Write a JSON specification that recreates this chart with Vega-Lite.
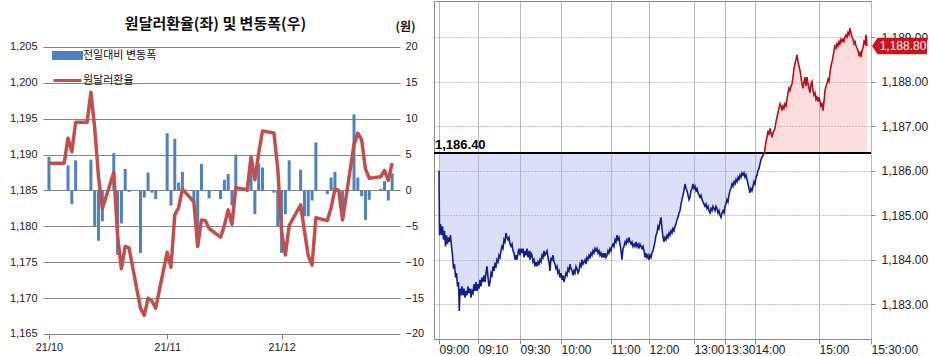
{
"$schema": "https://vega.github.io/schema/vega-lite/v6.json",
"padding": {"left": 7, "top": 0, "right": 0, "bottom": 0},
"background": "white",
"config": {"font": "Liberation Sans"},
"datasets": {
"daily": [
{"d":"2021-10-01","r":1188.8,"c":4.7},{"d":"2021-10-05","r":1188.8,"c":0},{"d":"2021-10-06","r":1192.3,"c":3.5},{"d":"2021-10-07","r":1190.4,"c":-1.9},{"d":"2021-10-08","r":1194.5,"c":4.2},{"d":"2021-10-11","r":1194.5,"c":0},{"d":"2021-10-12","r":1198.7,"c":4.3},{"d":"2021-10-13","r":1193.7,"c":-5.0},{"d":"2021-10-14","r":1186.9,"c":-7.0},{"d":"2021-10-15","r":1182.5,"c":-4.3},{"d":"2021-10-18","r":1187.5,"c":5.2},{"d":"2021-10-19","r":1178.7,"c":-9.0},{"d":"2021-10-20","r":1174.1,"c":-4.6},{"d":"2021-10-21","r":1177.2,"c":3.0},{"d":"2021-10-22","r":1177.0,"c":-0.2},{"d":"2021-10-25","r":1168.6,"c":-8.7},{"d":"2021-10-26","r":1167.6,"c":-1.0},{"d":"2021-10-27","r":1170.0,"c":2.5},{"d":"2021-10-28","r":1169.6,"c":-0.3},{"d":"2021-10-29","r":1168.6,"c":-1.2},
{"d":"2021-11-01","r":1176.4,"c":8.0},{"d":"2021-11-02","r":1174.3,"c":-2.1},{"d":"2021-11-03","r":1181.6,"c":7.2},{"d":"2021-11-04","r":1182.6,"c":1.1},{"d":"2021-11-05","r":1185.2,"c":2.6},{"d":"2021-11-08","r":1183.4,"c":-1.7},{"d":"2021-11-09","r":1177.2,"c":-6.3},{"d":"2021-11-10","r":1180.9,"c":3.7},{"d":"2021-11-11","r":1180.8,"c":-0.1},{"d":"2021-11-12","r":1179.7,"c":-1.1},{"d":"2021-11-15","r":1178.5,"c":-1.2},{"d":"2021-11-16","r":1180.1,"c":1.5},{"d":"2021-11-17","r":1182.3,"c":2.3},{"d":"2021-11-18","r":1180.3,"c":-2.1},{"d":"2021-11-19","r":1185.4,"c":5.0},{"d":"2021-11-22","r":1185.1,"c":-0.2},{"d":"2021-11-23","r":1189.7,"c":4.6},{"d":"2021-11-24","r":1186.5,"c":-3.3},{"d":"2021-11-25","r":1190.2,"c":3.8},{"d":"2021-11-26","r":1193.3,"c":3.2},{"d":"2021-11-29","r":1193.0,"c":-0.3},{"d":"2021-11-30","r":1188.1,"c":-5.0},
{"d":"2021-12-01","r":1179.3,"c":-8.7},{"d":"2021-12-02","r":1176.0,"c":-3.3},{"d":"2021-12-03","r":1180.1,"c":4.2},{"d":"2021-12-06","r":1183.0,"c":2.9},{"d":"2021-12-07","r":1179.4,"c":-3.6},{"d":"2021-12-08","r":1175.9,"c":-3.6},{"d":"2021-12-09","r":1174.6,"c":-1.4},{"d":"2021-12-10","r":1181.2,"c":6.7},{"d":"2021-12-13","r":1180.8,"c":-0.5},{"d":"2021-12-14","r":1182.6,"c":1.8},{"d":"2021-12-15","r":1185.2,"c":2.6},{"d":"2021-12-16","r":1185.0,"c":-0.2},{"d":"2021-12-17","r":1180.9,"c":-4.1},{"d":"2021-12-20","r":1191.4,"c":10.6},{"d":"2021-12-21","r":1193.0,"c":1.8},{"d":"2021-12-22","r":1192.1,"c":-0.8},{"d":"2021-12-23","r":1188.0,"c":-4.1},{"d":"2021-12-24","r":1186.7,"c":-1.3},{"d":"2021-12-27","r":1186.9,"c":0.2},{"d":"2021-12-28","r":1187.8,"c":1.3},{"d":"2021-12-29","r":1186.4,"c":-1.4},{"d":"2021-12-30","r":1188.8,"c":2.4}
],
"intra": [
{"i":0,"v":1186.0},{"i":0.5,"v":1184.55},{"i":1.5,"v":1184.8},{"i":2.5,"v":1184.55},{"i":3.5,"v":1184.75},{"i":4.5,"v":1184.45},{"i":5.5,"v":1184.65},{"i":6.5,"v":1184.3},{"i":7.5,"v":1184.55},{"i":8.5,"v":1184.35},{"i":9.5,"v":1184.5},{"i":10.5,"v":1184.4},{"i":11.5,"v":1184.55},{"i":12.5,"v":1184.3},{"i":13.5,"v":1184.1},{"i":14.5,"v":1183.8},{"i":15.5,"v":1183.9},{"i":16.5,"v":1183.6},{"i":17.5,"v":1183.7},{"i":18.5,"v":1183.4},{"i":19.5,"v":1183.5},{"i":20.3,"v":1182.85},
{"i":21,"v":1183.35},{"i":22,"v":1183.2},{"i":23,"v":1183.4},{"i":24,"v":1183.2},{"i":25,"v":1183.35},{"i":26,"v":1183.15},{"i":27,"v":1183.3},{"i":28,"v":1183.2},{"i":29,"v":1183.4},{"i":30,"v":1183.25},{"i":31,"v":1183.35},{"i":32,"v":1183.15},{"i":33,"v":1183.3},{"i":34,"v":1183.25},{"i":35,"v":1183.45},{"i":36,"v":1183.3},{"i":37,"v":1183.5},{"i":38,"v":1183.3},{"i":39,"v":1183.45},{"i":40,"v":1183.35},
{"i":41,"v":1183.55},{"i":42,"v":1183.4},{"i":43,"v":1183.6},{"i":44,"v":1183.5},{"i":45,"v":1183.65},{"i":46,"v":1183.5},{"i":47,"v":1183.7},{"i":48,"v":1183.85},{"i":49,"v":1183.6},{"i":50,"v":1183.4},{"i":51,"v":1183.5},{"i":52,"v":1183.7},{"i":53,"v":1183.65},{"i":54,"v":1183.85},{"i":55,"v":1183.75},{"i":56,"v":1183.9},{"i":57,"v":1183.85},{"i":58,"v":1184.0},{"i":59,"v":1183.95},{"i":60,"v":1184.1},
{"i":61,"v":1184.05},{"i":62,"v":1184.2},{"i":63,"v":1184.3},{"i":64,"v":1184.25},{"i":65,"v":1184.45},{"i":66,"v":1184.4},{"i":67,"v":1184.6},{"i":68,"v":1184.5},{"i":69,"v":1184.45},{"i":70,"v":1184.5},{"i":71,"v":1184.35},{"i":72,"v":1184.3},{"i":73,"v":1184.35},{"i":74,"v":1184.2},{"i":75,"v":1184.15},{"i":76,"v":1184.0},{"i":77,"v":1184.1},{"i":78,"v":1184.0},{"i":79,"v":1184.15},{"i":80,"v":1184.25},
{"i":81,"v":1184.1},{"i":82,"v":1184.25},{"i":83,"v":1184.15},{"i":84,"v":1184.25},{"i":85,"v":1184.05},{"i":86,"v":1184.2},{"i":87,"v":1184.1},{"i":88,"v":1184.25},{"i":89,"v":1184.05},{"i":90,"v":1184.2},{"i":91,"v":1184.0},{"i":92,"v":1184.15},{"i":93,"v":1184.1},{"i":94,"v":1183.95},{"i":95,"v":1184.0},{"i":96,"v":1183.85},{"i":97,"v":1183.95},{"i":98,"v":1183.85},{"i":99,"v":1183.95},{"i":100,"v":1183.9},
{"i":101,"v":1184.0},{"i":102,"v":1183.95},{"i":103,"v":1184.1},{"i":104,"v":1184.05},{"i":105,"v":1184.2},{"i":106,"v":1184.1},{"i":107,"v":1184.15},{"i":108,"v":1184.2},{"i":109,"v":1184.05},{"i":110,"v":1183.95},{"i":111,"v":1183.75},{"i":112,"v":1184.05},{"i":113,"v":1184.0},{"i":114,"v":1184.1},{"i":115,"v":1183.95},{"i":116,"v":1183.9},{"i":117,"v":1183.8},{"i":118,"v":1183.85},{"i":119,"v":1183.7},{"i":120,"v":1183.75},
{"i":121,"v":1183.6},{"i":122,"v":1183.7},{"i":123,"v":1183.55},{"i":124,"v":1183.65},{"i":125,"v":1183.5},{"i":126,"v":1183.6},{"i":127,"v":1183.7},{"i":128,"v":1183.65},{"i":129,"v":1183.8},{"i":130,"v":1183.75},{"i":131,"v":1183.9},{"i":132,"v":1183.8},{"i":133,"v":1183.75},{"i":134,"v":1183.65},{"i":135,"v":1183.75},{"i":136,"v":1183.7},{"i":137,"v":1183.85},{"i":138,"v":1183.8},{"i":139,"v":1183.7},{"i":140,"v":1183.75},
{"i":141,"v":1183.9},{"i":142,"v":1183.85},{"i":143,"v":1184.0},{"i":144,"v":1183.9},{"i":145,"v":1183.95},{"i":146,"v":1184.0},{"i":147,"v":1183.9},{"i":148,"v":1184.05},{"i":149,"v":1184.0},{"i":150,"v":1184.1},{"i":151,"v":1184.05},{"i":152,"v":1184.15},{"i":153,"v":1184.1},{"i":154,"v":1184.2},{"i":155,"v":1184.15},{"i":156,"v":1184.25},{"i":157,"v":1184.2},{"i":158,"v":1184.25},{"i":159,"v":1184.15},{"i":160,"v":1184.2},
{"i":161,"v":1184.1},{"i":162,"v":1184.15},{"i":163,"v":1184.05},{"i":164,"v":1184.15},{"i":165,"v":1184.05},{"i":166,"v":1184.15},{"i":167,"v":1184.05},{"i":168,"v":1184.1},{"i":169,"v":1184.2},{"i":170,"v":1184.15},{"i":171,"v":1184.25},{"i":172,"v":1184.2},{"i":173,"v":1184.3},{"i":174,"v":1184.35},{"i":175,"v":1184.3},{"i":176,"v":1184.45},{"i":177,"v":1184.4},{"i":178,"v":1184.55},{"i":179,"v":1184.45},{"i":180,"v":1184.5},
{"i":181,"v":1184.35},{"i":182,"v":1184.2},{"i":183,"v":1184.0},{"i":184,"v":1184.25},{"i":185,"v":1184.3},{"i":186,"v":1184.4},{"i":187,"v":1184.35},{"i":188,"v":1184.45},{"i":189,"v":1184.4},{"i":190,"v":1184.5},{"i":191,"v":1184.4},{"i":192,"v":1184.35},{"i":193,"v":1184.4},{"i":194,"v":1184.3},{"i":195,"v":1184.35},{"i":196,"v":1184.3},{"i":197,"v":1184.4},{"i":198,"v":1184.3},{"i":199,"v":1184.35},{"i":200,"v":1184.25},
{"i":201,"v":1184.35},{"i":202,"v":1184.3},{"i":203,"v":1184.25},{"i":204,"v":1184.3},{"i":205,"v":1184.2},{"i":206,"v":1184.05},{"i":207,"v":1184.15},{"i":208,"v":1184.05},{"i":209,"v":1184.1},{"i":210,"v":1184.0},{"i":211,"v":1184.1},{"i":212,"v":1184.05},{"i":213,"v":1184.15},{"i":214,"v":1184.2},{"i":215,"v":1184.3},{"i":216,"v":1184.4},{"i":217,"v":1184.55},{"i":218,"v":1184.6},{"i":219,"v":1184.75},{"i":220,"v":1184.7},
{"i":221,"v":1184.85},{"i":222,"v":1184.95},{"i":223,"v":1184.7},{"i":224,"v":1184.5},{"i":225,"v":1184.4},{"i":226,"v":1184.5},{"i":227,"v":1184.45},{"i":228,"v":1184.55},{"i":229,"v":1184.5},{"i":230,"v":1184.6},{"i":231,"v":1184.55},{"i":232,"v":1184.65},{"i":233,"v":1184.6},{"i":234,"v":1184.7},{"i":235,"v":1184.65},{"i":236,"v":1184.75},{"i":237,"v":1184.8},{"i":238,"v":1184.9},{"i":239,"v":1184.95},{"i":240,"v":1185.05},
{"i":241,"v":1185.1},{"i":242,"v":1185.25},{"i":243,"v":1185.35},{"i":244,"v":1185.45},{"i":245,"v":1185.55},{"i":246,"v":1185.7},{"i":247,"v":1185.6},{"i":248,"v":1185.55},{"i":249,"v":1185.45},{"i":250,"v":1185.35},{"i":251,"v":1185.4},{"i":252,"v":1185.55},{"i":253,"v":1185.6},{"i":254,"v":1185.7},{"i":255,"v":1185.6},{"i":256,"v":1185.65},{"i":257,"v":1185.55},{"i":258,"v":1185.6},{"i":259,"v":1185.5},{"i":260,"v":1185.45},
{"i":261,"v":1185.4},{"i":262,"v":1185.45},{"i":263,"v":1185.35},{"i":264,"v":1185.3},{"i":265,"v":1185.25},{"i":266,"v":1185.2},{"i":267,"v":1185.25},{"i":268,"v":1185.15},{"i":269,"v":1185.2},{"i":270,"v":1185.1},{"i":271,"v":1185.05},{"i":272,"v":1185.15},{"i":273,"v":1185.1},{"i":274,"v":1185.2},{"i":275,"v":1185.15},{"i":276,"v":1185.1},{"i":277,"v":1185.2},{"i":278,"v":1185.15},{"i":279,"v":1185.05},{"i":280,"v":1185.1},
{"i":281,"v":1185.0},{"i":282,"v":1184.95},{"i":283,"v":1185.05},{"i":284,"v":1185.1},{"i":285,"v":1185.05},{"i":286,"v":1185.2},{"i":287,"v":1185.25},{"i":288,"v":1185.35},{"i":289,"v":1185.3},{"i":290,"v":1185.45},{"i":291,"v":1185.55},{"i":292,"v":1185.6},{"i":293,"v":1185.7},{"i":294,"v":1185.65},{"i":295,"v":1185.75},{"i":296,"v":1185.7},{"i":297,"v":1185.8},{"i":298,"v":1185.75},{"i":299,"v":1185.85},{"i":300,"v":1185.8},
{"i":301,"v":1185.9},{"i":302,"v":1185.85},{"i":303,"v":1185.95},{"i":304,"v":1185.9},{"i":305,"v":1185.95},{"i":306,"v":1185.85},{"i":307,"v":1185.9},{"i":308,"v":1185.8},{"i":309,"v":1185.7},{"i":310,"v":1185.6},{"i":311,"v":1185.5},{"i":312,"v":1185.6},{"i":313,"v":1185.55},{"i":314,"v":1185.65},{"i":315,"v":1185.75},{"i":316,"v":1185.7},{"i":317,"v":1185.85},{"i":318,"v":1185.9},{"i":319,"v":1186.0},{"i":320,"v":1186.05},
{"i":321,"v":1186.15},{"i":322,"v":1186.25},{"i":323,"v":1186.3},{"i":324,"v":1186.35},{"i":325.5,"v":1186.4},{"i":326,"v":1186.5},{"i":327,"v":1186.65},{"i":328,"v":1186.75},{"i":329,"v":1186.9},{"i":330,"v":1186.8},{"i":331,"v":1186.95},{"i":332,"v":1186.85},{"i":333,"v":1186.75},{"i":334,"v":1186.85},{"i":335,"v":1186.9},{"i":336,"v":1186.95},{"i":337,"v":1187.1},{"i":338,"v":1187.2},{"i":339,"v":1187.3},{"i":340,"v":1187.4},
{"i":341,"v":1187.5},{"i":342,"v":1187.45},{"i":343,"v":1187.35},{"i":344,"v":1187.45},{"i":345,"v":1187.4},{"i":346,"v":1187.5},{"i":347,"v":1187.45},{"i":348,"v":1187.6},{"i":349,"v":1187.75},{"i":350,"v":1187.85},{"i":351,"v":1187.8},{"i":352,"v":1187.9},{"i":353,"v":1187.95},{"i":354,"v":1188.1},{"i":355,"v":1188.3},{"i":356,"v":1188.4},{"i":357,"v":1188.5},{"i":358,"v":1188.6},{"i":359,"v":1188.45},{"i":360,"v":1188.35},
{"i":361,"v":1188.25},{"i":362,"v":1188.1},{"i":363,"v":1187.95},{"i":364,"v":1187.85},{"i":365,"v":1188.0},{"i":366,"v":1188.1},{"i":367,"v":1187.9},{"i":368,"v":1188.1},{"i":369,"v":1187.95},{"i":370,"v":1187.85},{"i":371,"v":1187.75},{"i":372,"v":1187.95},{"i":373,"v":1188.0},{"i":374,"v":1187.8},{"i":375,"v":1187.7},{"i":376,"v":1187.75},{"i":377,"v":1187.6},{"i":378,"v":1187.65},{"i":379,"v":1187.55},{"i":380,"v":1187.65},
{"i":381,"v":1187.55},{"i":382,"v":1187.45},{"i":383,"v":1187.5},{"i":384,"v":1187.35},{"i":385,"v":1187.55},{"i":386,"v":1187.8},{"i":387,"v":1187.9},{"i":388,"v":1187.95},{"i":389,"v":1188.05},{"i":390,"v":1188.0},{"i":391,"v":1188.2},{"i":392,"v":1188.35},{"i":393,"v":1188.45},{"i":394,"v":1188.55},{"i":395,"v":1188.7},{"i":396,"v":1188.8},{"i":397,"v":1188.75},{"i":398,"v":1188.85},{"i":399,"v":1188.8},{"i":400,"v":1188.9},
{"i":401,"v":1188.85},{"i":402,"v":1188.95},{"i":403,"v":1188.9},{"i":404,"v":1188.95},{"i":405,"v":1188.9},{"i":406,"v":1189.0},{"i":407,"v":1189.05},{"i":408,"v":1189.0},{"i":409,"v":1189.1},{"i":410,"v":1189.05},{"i":411,"v":1189.2},{"i":412,"v":1189.1},{"i":413,"v":1189.0},{"i":414,"v":1188.95},{"i":415,"v":1188.85},{"i":416,"v":1188.9},{"i":417,"v":1188.8},{"i":418,"v":1188.75},{"i":419,"v":1188.7},{"i":420,"v":1188.6},
{"i":421,"v":1188.65},{"i":422,"v":1188.55},{"i":423,"v":1188.7},{"i":424,"v":1188.75},{"i":425,"v":1188.9},{"i":426,"v":1188.85},{"i":427,"v":1189.05},{"i":428,"v":1188.8}
]
},
"hconcat": [
{
"width": 357, "height": 338,
"view": {"stroke": null},
"data": {"name": "daily"},
"encoding": {
"x": {"field": "d", "type": "temporal",
"scale": {"type": "utc", "domain": [{"year": 2021, "month": 9, "date": 30, "hours": 18, "utc": true}, {"year": 2021, "month": 12, "date": 30, "hours": 18, "utc": true}]},
"axis": {"values": [{"year": 2021, "month": 10, "date": 1, "utc": true}, {"year": 2021, "month": 11, "date": 1, "utc": true}, {"year": 2021, "month": 12, "date": 1, "utc": true}], "format": "%y/%m", "title": null, "grid": false, "domain": false, "ticks": true, "tickSize": 5, "tickColor": "#868686", "offset": -5, "labelFontSize": 11, "labelColor": "#222", "labelPadding": 2, "labelFlush": false}}
},
"layer": [
{"mark": {"type": "bar", "size": 3},
"encoding": {
"y": {"field": "c", "type": "quantitative", "scale": {"domain": [-20.7, 26.41], "nice": false, "zero": false},
"axis": {"orient": "right", "values": [-20, -15, -10, -5, 0, 5, 10, 15, 20], "title": "(원)", "titleAngle": 0, "titleAlign": "center", "titleBaseline": "middle", "titleX": 5, "titleY": 25, "titleFontSize": 12, "titleFontWeight": "bold", "titleFont": "Noto Sans CJK KR", "titleColor": "#111", "grid": false, "ticks": false, "domain": false, "labelPadding": 5, "labelFontSize": 11, "labelColor": "#222", "minExtent": 30, "maxExtent": 30}},
"color": {"datum": "전일대비 변동폭", "type": "nominal",
"scale": {"domain": ["전일대비 변동폭", "원달러환율"], "range": ["#4F81BD", "#C0504D"]},
"legend": {"title": null, "orient": "none", "legendX": 9, "legendY": 39, "padding": 0, "rowPadding": -13, "symbolSize": 784, "labelFontSize": 11, "labelFont": "Noto Sans CJK KR", "labelColor": "#111", "labelOffset": 0,
"encode": {"symbols": {"update": {
"shape": {"signal": "datum.label === '원달러환율' ? 'M-1,0H1' : 'M-1,-0.22H1V0.22H-1Z'"},
"fill": {"signal": "datum.label === '원달러환율' ? 'transparent' : '#4F81BD'"},
"stroke": {"signal": "datum.label === '원달러환율' ? '#C0504D' : 'transparent'"},
"strokeWidth": {"value": 3}}}}}}
}},
{"mark": {"type": "line", "strokeWidth": 3.5, "strokeJoin": "round"},
"encoding": {
"y": {"field": "r", "type": "quantitative", "scale": {"domain": [1164.3, 1211.41], "nice": false, "zero": false},
"axis": {"orient": "left", "values": [1165, 1170, 1175, 1180, 1185, 1190, 1195, 1200, 1205], "format": ",", "grid": true, "gridColor": "#868686", "ticks": false, "domain": false, "labelPadding": 6, "labelFontSize": 11, "labelColor": "#222", "minExtent": 36, "maxExtent": 36,
"title": "원달러환율(좌) 및 변동폭(우)", "titleAngle": 0, "titleAlign": "center", "titleBaseline": "middle", "titleX": 172, "titleY": 22, "titleFont": "Noto Sans CJK KR", "titleFontSize": 15, "titleFontWeight": "bold", "titleColor": "#111"}},
"color": {"datum": "원달러환율", "type": "nominal"}
}},
{"data": {"values": [{}]},
"mark": {"type": "rule", "color": "#868686", "strokeWidth": 1},
"encoding": {"x": {"datum": {"year": 2021, "month": 9, "date": 30, "hours": 18, "utc": true}, "type": "temporal"},
"y": {"datum": 1165, "type": "quantitative", "scale": {"domain": [1164.3, 1211.41], "nice": false, "zero": false}, "axis": null},
"y2": {"datum": 1205}}},
{"data": {"values": [{}]},
"mark": {"type": "rule", "color": "#868686", "strokeWidth": 1},
"encoding": {"x": {"datum": {"year": 2021, "month": 12, "date": 30, "hours": 18, "utc": true}, "type": "temporal"},
"y": {"datum": 1165, "type": "quantitative", "scale": {"domain": [1164.3, 1211.41], "nice": false, "zero": false}, "axis": null},
"y2": {"datum": 1205}}}
],
"resolve": {"scale": {"y": "independent"}}
},
{
"width": 437, "height": 338,
"view": {"stroke": "#8a8a8a", "strokeWidth": 1},
"data": {"name": "intra"},
"layer": [
{"transform": [{"filter": "datum.i <= 325.5"}],
"mark": {"type": "area", "color": "#aab0ef", "opacity": 0.4},
"encoding": {
"x": {"field": "i", "type": "quantitative", "scale": {"domain": [-5, 432], "nice": false, "zero": false},
"axis": {"values": [0, 39, 81, 122, 172, 210, 255, 286, 316, 380, 432], "labelExpr": "datum.value == 0 ? '09:00' : datum.value == 39 ? '09:10' : datum.value == 81 ? '09:30' : datum.value == 122 ? '10:00' : datum.value == 172 ? '11:00' : datum.value == 210 ? '12:00' : datum.value == 255 ? '13:00' : datum.value == 286 ? '13:30' : datum.value == 316 ? '14:00' : datum.value == 380 ? '15:00' : '15:30:00'", "labelAlign": "left", "labelFontSize": 12, "labelColor": "#222", "tickSize": 5, "tickColor": "#8a8a8a", "domain": false, "grid": true, "gridColor": "#b4b8bf", "gridWidth": 1, "labelPadding": 0, "labelFlush": false, "labelOverlap": false, "title": null}},
"y": {"field": "v", "type": "quantitative", "scale": {"domain": [1182.22, 1189.81], "nice": false, "zero": false},
"axis": {"orient": "right", "values": [1183, 1184, 1185, 1186, 1187, 1188, 1189], "format": ",.2f", "labelOverlap": false, "labelBound": false, "labelFlush": false, "labelFontSize": 12, "labelColor": "#222", "tickSize": 4, "tickColor": "#8a8a8a", "domain": false, "labelPadding": 6, "grid": true, "gridColor": "#8a8a8a", "gridDash": [1, 2], "title": null}},
"y2": {"datum": 1186.4}
}},
{"transform": [{"filter": "datum.i >= 325.5"}],
"mark": {"type": "area", "color": "#f5a0a0", "opacity": 0.35},
"encoding": {"x": {"field": "i", "type": "quantitative"}, "y": {"field": "v", "type": "quantitative"}, "y2": {"datum": 1186.4}}},
{"mark": {"type": "rule", "color": "#000000", "strokeWidth": 1.3},
"encoding": {"y": {"datum": 1186.4, "type": "quantitative"}}},
{"transform": [{"filter": "datum.i <= 325.5"}],
"mark": {"type": "line", "color": "#13208a", "strokeWidth": 1.6},
"encoding": {"x": {"field": "i", "type": "quantitative"}, "y": {"field": "v", "type": "quantitative"}}},
{"transform": [{"filter": "datum.i >= 325.5"}],
"mark": {"type": "line", "color": "#b3121a", "strokeWidth": 1.6},
"encoding": {"x": {"field": "i", "type": "quantitative"}, "y": {"field": "v", "type": "quantitative"}}},
{"data": {"values": [{}]},
"mark": {"type": "text", "align": "left", "baseline": "bottom", "dx": 1, "dy": -1, "fontSize": 13, "fontWeight": "bold", "color": "#000"},
"encoding": {"x": {"datum": -5, "type": "quantitative"}, "y": {"datum": 1186.4, "type": "quantitative"}, "text": {"value": "1,186.40"}}},
{"data": {"values": [{}]},
"mark": {"type": "point", "shape": "M-1,0L-0.8,-0.3L1,-0.3L1,0.3L-0.8,0.3Z", "filled": true, "color": "#c8141c", "opacity": 1, "size": 3025, "strokeWidth": 0},
"encoding": {"x": {"datum": 460.5, "type": "quantitative"}, "y": {"datum": 1188.8, "type": "quantitative"}}},
{"data": {"values": [{}]},
"mark": {"type": "text", "align": "center", "baseline": "middle", "fontSize": 12, "color": "#ffffff"},
"encoding": {"x": {"datum": 464, "type": "quantitative"}, "y": {"datum": 1188.8, "type": "quantitative"}, "text": {"value": "1,188.80"}}}
]
}
],
"spacing": 2
}
